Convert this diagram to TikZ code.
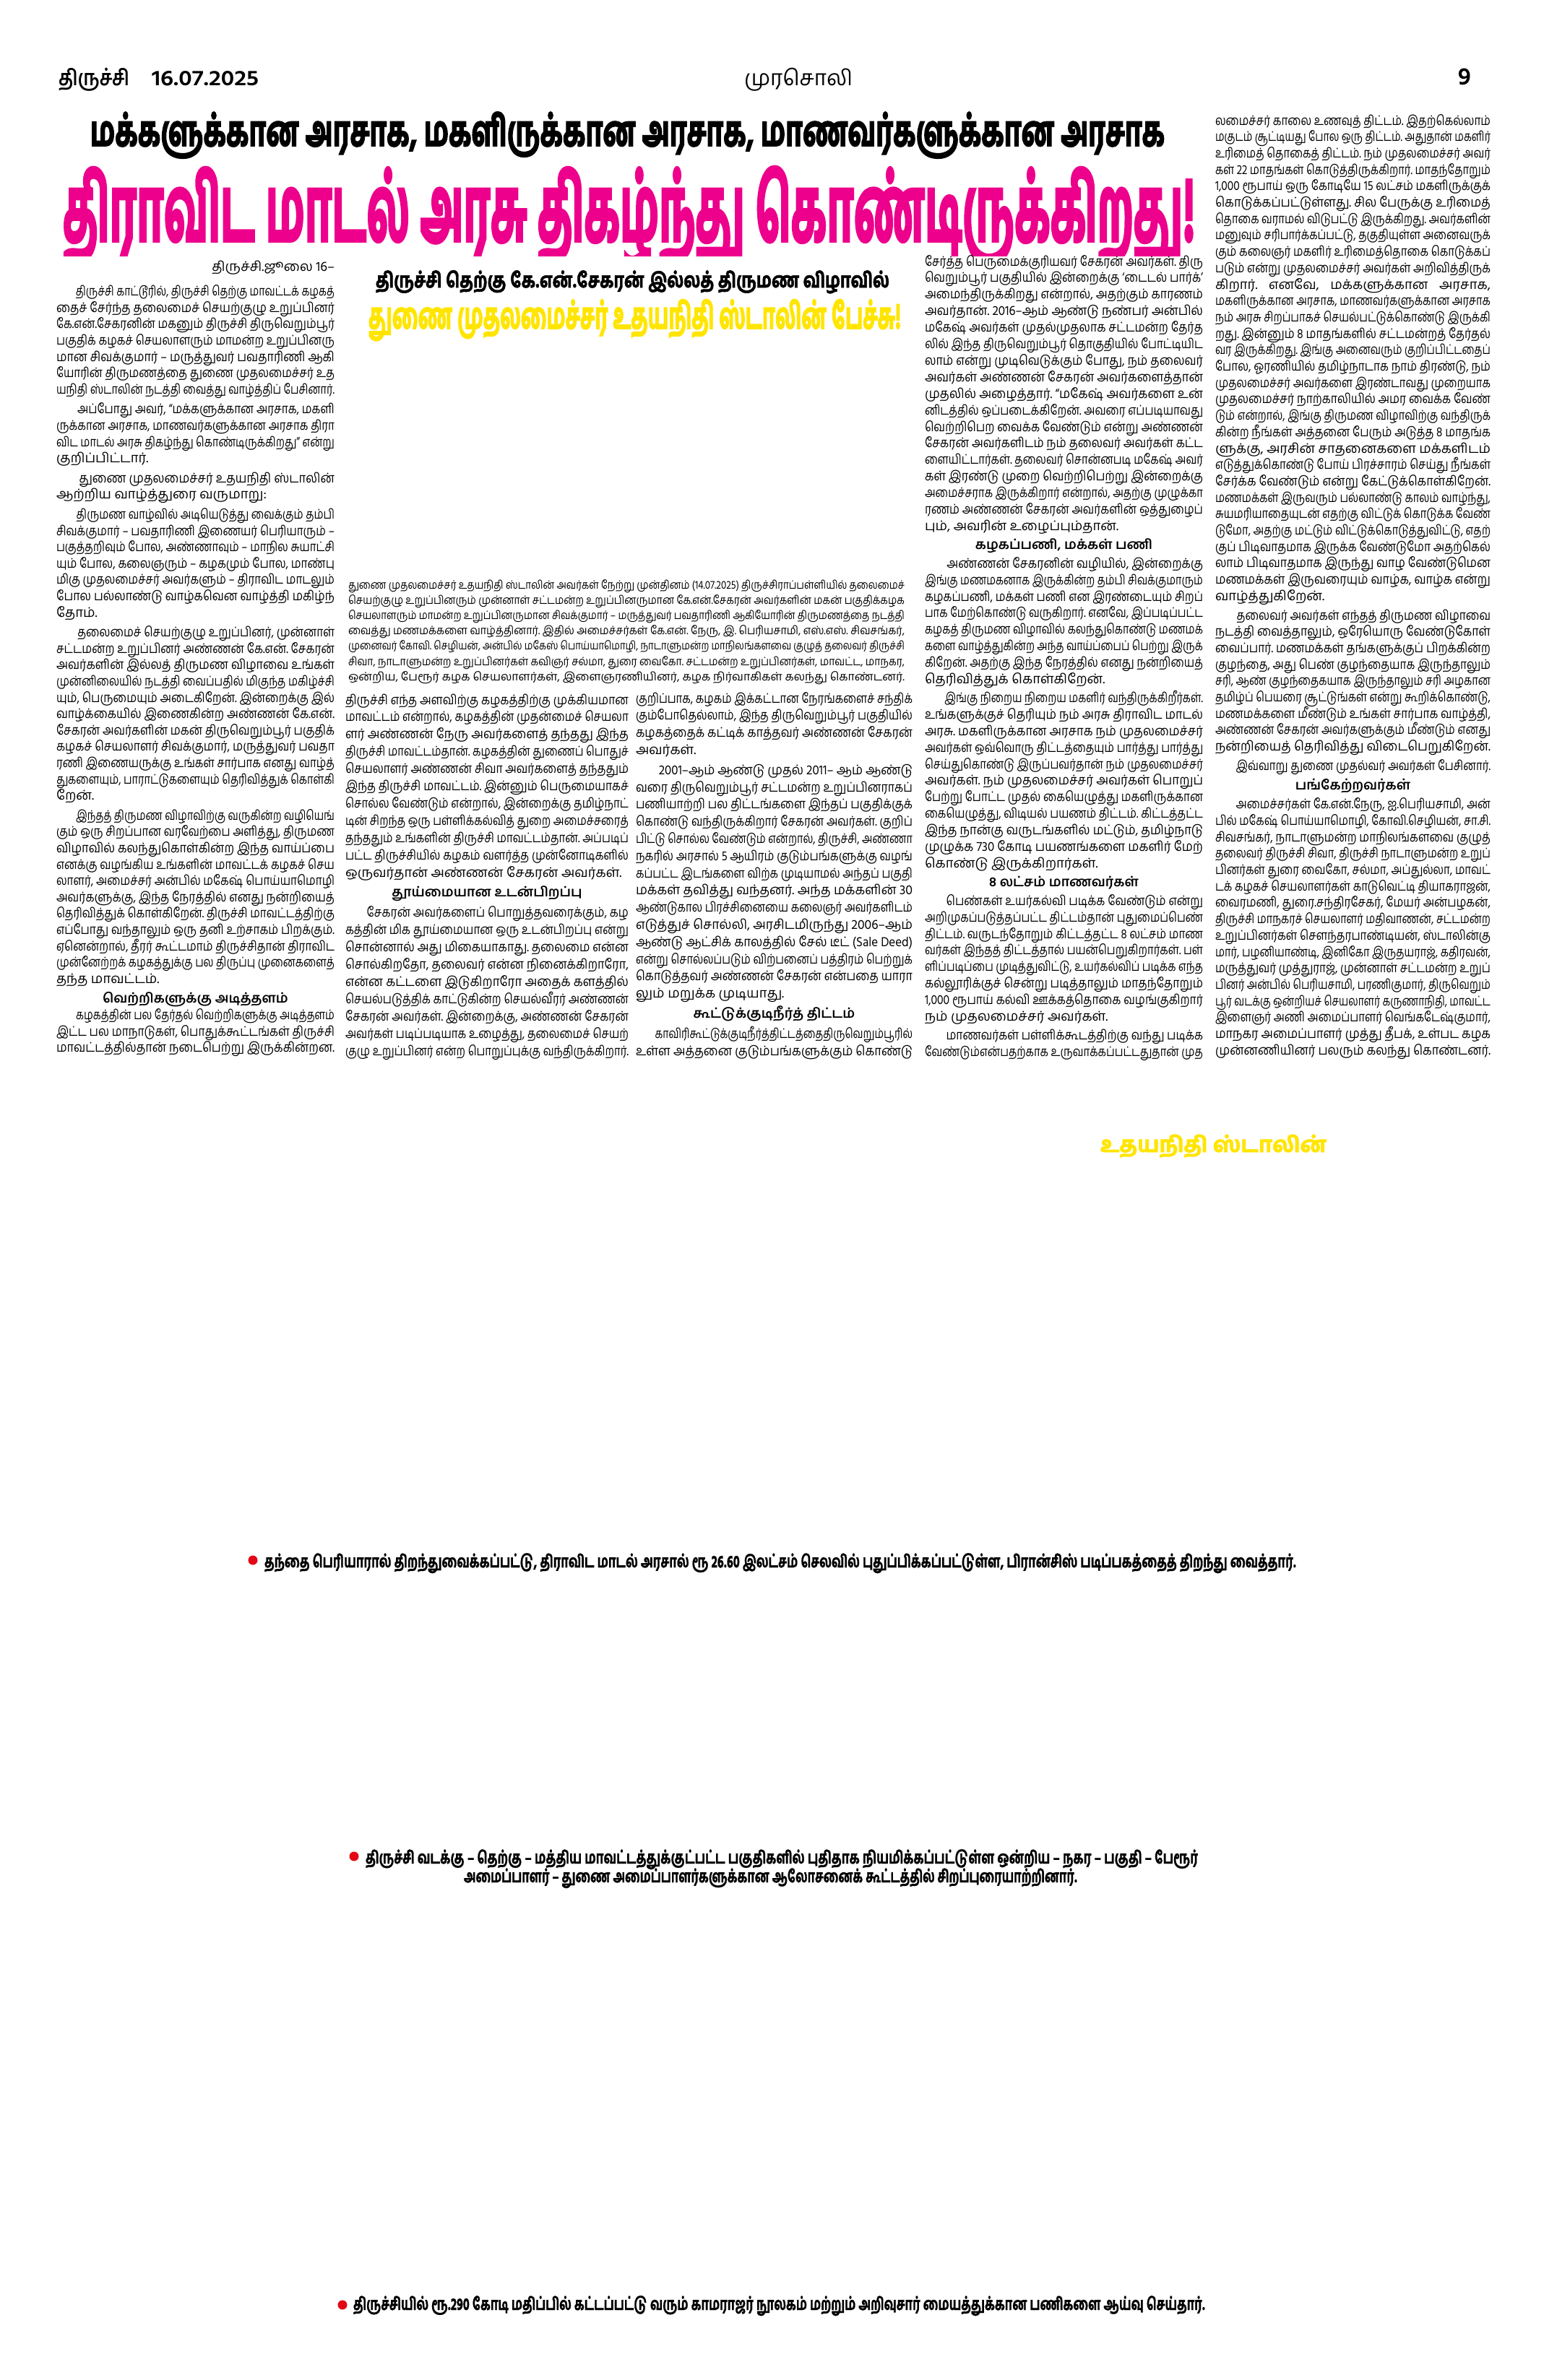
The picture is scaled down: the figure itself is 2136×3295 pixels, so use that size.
\documentclass[tikz,border=0pt]{standalone}
\usepackage{fontspec}
\usepackage{graphicx}
\setmainfont{Hind Madurai}[Script=Tamil]
\newfontfamily\hvy{Hind Madurai Bold}[Script=Tamil, FakeBold=3]
\newfontfamily\hvm{Hind Madurai Bold}[Script=Tamil, FakeBold=2]
\newfontfamily\hvs{Hind Madurai Bold}[Script=Tamil, FakeBold=1]
\definecolor{mag}{HTML}{EC008C}
\definecolor{yel}{HTML}{FFE500}
\definecolor{bul}{HTML}{E30613}
\newlength\colw
\newcommand\pjl[1]{\setbox0=\hbox{#1}\ifdim\wd0>\colw\hbox to\colw{\resizebox{\colw}{\height}{\copy0}}\else\hbox to\colw{#1}\fi}
\newcommand\pel[1]{\setbox0=\hbox{#1}\ifdim\wd0>\colw\hbox to\colw{\resizebox{\colw}{\height}{\copy0}}\else\hbox to\colw{#1\hfil}\fi}
\newcommand\pct[1]{\hbox to\colw{\hfil\bfseries #1\hfil}}
\newcommand\prt[1]{\hbox to\colw{\hfil #1}}
\newcommand\pin{\kern35pt}
\newcommand\pgp[1]{\vskip #1pt}
\newcommand\colsetup[2]{\setlength\colw{#1pt}\fontsize{18.5}{#2}\selectfont\frenchspacing\baselineskip=#2pt\lineskiplimit=-\maxdimen\lineskip=0pt\parskip=0pt}
\tikzset{txt/.style={inner sep=0pt, outer sep=0pt, anchor=base west},
  bulletdot/.style={fill=bul, draw=none}}
\begin{document}
\begin{tikzpicture}[x=1pt,y=-1pt]
\useasboundingbox[fill=white] (0,0) rectangle (2136,3295);
% header
\node[txt] (hcity) at (81,118) {\resizebox{98pt}{\height}{\fontsize{30}{30}\selectfont\bfseries திருச்சி}};
\node[txt] (hdate) at (210,118) {\resizebox{148pt}{\height}{\fontsize{30}{30}\selectfont\bfseries 16.07.2025}};
\node[txt] (hname) at (1030,118) {\resizebox{150pt}{\height}{\fontsize{30}{30}\selectfont முரசொலி}};
\node[txt] (hpage) at (2018,117) {\fontsize{34}{34}\selectfont\bfseries 9};
% headlines
\node[txt] (head1) at (125,202) {\resizebox{1487pt}{\height}{\fontsize{58}{58}\selectfont\hvy மக்களுக்கான அரசாக, மகளிருக்கான அரசாக, மாணவர்களுக்கான அரசாக}};
\begin{scope}
\clip (0,222) rectangle (2136,354);
\node[txt, text=mag] (head2) at (87,334) {\resizebox{1567pt}{\height}{\fontsize{126}{126}\selectfont\hvy திராவிட மாடல் அரசு திகழ்ந்து கொண்டிருக்கிறது!}};
\end{scope}
\node[txt] (sub1) at (520,398) {\resizebox{711pt}{\height}{\fontsize{29}{29}\selectfont\hvm திருச்சி தெற்கு கே.என்.சேகரன் இல்லத் திருமண விழாவில்}};
\node[txt, text=yel] (sub2) at (510,455) {\resizebox{737pt}{\height}{\fontsize{50}{50}\selectfont\hvy துணை முதலமைச்சர் உதயநிதி ஸ்டாலின் பேச்சு!}};
% column 1
\node[txt] (col1) at (78,375) {\vtop{\colsetup{385}{22.6}%
\prt{திருச்சி.ஜூலை 16–}\pgp{12}
\pjl{\pin திருச்சி காட்டூரில், திருச்சி தெற்கு மாவட்டக் கழகத்}
\pjl{தைச் சேர்ந்த தலைமைச் செயற்குழு உறுப்பினர்}
\pjl{கே.என்.சேகரனின் மகனும் திருச்சி திருவெறும்பூர்}
\pjl{பகுதிக் கழகச் செயலாளரும் மாமன்ற உறுப்பினரு}
\pjl{மான சிவக்குமார் – மருத்துவர் பவதாரிணி ஆகி}
\pjl{யோரின் திருமணத்தை துணை முதலமைச்சர் உத}
\pjl{யநிதி ஸ்டாலின் நடத்தி வைத்து வாழ்த்திப் பேசினார்.}\pgp{5}
\pjl{\pin அப்போது அவர், “மக்களுக்கான அரசாக, மகளி}
\pjl{ருக்கான அரசாக, மாணவர்களுக்கான அரசாக திரா}
\pjl{விட மாடல் அரசு திகழ்ந்து கொண்டிருக்கிறது” என்று}
\pel{குறிப்பிட்டார்.}\pgp{5}
\pjl{\pin துணை முதலமைச்சர் உதயநிதி ஸ்டாலின்}
\pel{ஆற்றிய வாழ்த்துரை வருமாறு:}\pgp{5}
\pjl{\pin திருமண வாழ்வில் அடியெடுத்து வைக்கும் தம்பி}
\pjl{சிவக்குமார் – பவதாரிணி இணையர் பெரியாரும் –}
\pjl{பகுத்தறிவும் போல, அண்ணாவும் – மாநில சுயாட்சி}
\pjl{யும் போல, கலைஞரும் – கழகமும் போல, மாண்பு}
\pjl{மிகு முதலமைச்சர் அவர்களும் – திராவிட மாடலும்}
\pjl{போல பல்லாண்டு வாழ்கவென வாழ்த்தி மகிழ்ந்}
\pel{தோம்.}\pgp{5}
\pjl{\pin தலைமைச் செயற்குழு உறுப்பினர், முன்னாள்}
\pjl{சட்டமன்ற உறுப்பினர் அண்ணன் கே.என். சேகரன்}
\pjl{அவர்களின் இல்லத் திருமண விழாவை உங்கள்}
\pjl{முன்னிலையில் நடத்தி வைப்பதில் மிகுந்த மகிழ்ச்சி}
\pjl{யும், பெருமையும் அடைகிறேன். இன்றைக்கு இல்}
\pjl{வாழ்க்கையில் இணைகின்ற அண்ணன் கே.என்.}
\pjl{சேகரன் அவர்களின் மகன் திருவெறும்பூர் பகுதிக்}
\pjl{கழகச் செயலாளர் சிவக்குமார், மருத்துவர் பவதா}
\pjl{ரணி இணையருக்கு உங்கள் சார்பாக எனது வாழ்த்}
\pjl{துகளையும், பாராட்டுகளையும் தெரிவித்துக் கொள்கி}
\pel{றேன்.}\pgp{5}
\pjl{\pin இந்தத் திருமண விழாவிற்கு வருகின்ற வழியெங்}
\pjl{கும் ஒரு சிறப்பான வரவேற்பை அளித்து, திருமண}
\pjl{விழாவில் கலந்துகொள்கின்ற இந்த வாய்ப்பை}
\pjl{எனக்கு வழங்கிய உங்களின் மாவட்டக் கழகச் செய}
\pjl{லாளர், அமைச்சர் அன்பில் மகேஷ் பொய்யாமொழி}
\pjl{அவர்களுக்கு, இந்த நேரத்தில் எனது நன்றியைத்}
\pjl{தெரிவித்துக் கொள்கிறேன். திருச்சி மாவட்டத்திற்கு}
\pjl{எப்போது வந்தாலும் ஒரு தனி உற்சாகம் பிறக்கும்.}
\pjl{ஏனென்றால், தீரர் கூட்டமாம் திருச்சிதான் திராவிட}
\pjl{முன்னேற்றக் கழகத்துக்கு பல திருப்பு முனைகளைத்}
\pel{தந்த மாவட்டம்.}\pgp{5}
\pct{வெற்றிகளுக்கு அடித்தளம்}
\pjl{\pin கழகத்தின் பல தேர்தல் வெற்றிகளுக்கு அடித்தளம்}
\pjl{இட்ட பல மாநாடுகள், பொதுக்கூட்டங்கள் திருச்சி}
\pjl{மாவட்டத்தில்தான் நடைபெற்று இருக்கின்றன.}
}};
% photo caption
\node[txt] (cap) at (482,815) {\vtop{\setlength\colw{770pt}\fontsize{16}{21.2}\selectfont\frenchspacing\baselineskip=21.2pt\lineskiplimit=-\maxdimen\lineskip=0pt%
\pjl{துணை முதலமைச்சர் உதயநிதி ஸ்டாலின் அவர்கள் நேற்று முன்தினம் (14.07.2025) திருச்சிராப்பள்ளியில் தலைமைச்}
\pjl{செயற்குழு உறுப்பினரும் முன்னாள் சட்டமன்ற உறுப்பினருமான கே.என்.சேகரன் அவர்களின் மகன் பகுதிக்கழக}
\pjl{செயலாளரும் மாமன்ற உறுப்பினருமான சிவக்குமார் – மருத்துவர் பவதாரிணி ஆகியோரின் திருமணத்தை நடத்தி}
\pjl{வைத்து மணமக்களை வாழ்த்தினார். இதில் அமைச்சர்கள் கே.என். நேரு, இ. பெரியசாமி, எஸ்.எஸ். சிவசங்கர்,}
\pjl{முனைவர் கோவி. செழியன், அன்பில் மகேஸ் பொய்யாமொழி, நாடாளுமன்ற மாநிலங்களவை குழுத் தலைவர் திருச்சி}
\pjl{சிவா, நாடாளுமன்ற உறுப்பினர்கள் கவிஞர் சல்மா, துரை வைகோ. சட்டமன்ற உறுப்பினர்கள், மாவட்ட, மாநகர,}
\pel{ஒன்றிய, பேரூர் கழக செயலாளர்கள், இளைஞரணியினர், கழக நிர்வாகிகள் கலந்து கொண்டனர்.}
}};
% column 2a
\node[txt] (col2a) at (478,975) {\vtop{\colsetup{392}{23.9}%
\pjl{திருச்சி எந்த அளவிற்கு கழகத்திற்கு முக்கியமான}
\pjl{மாவட்டம் என்றால், கழகத்தின் முதன்மைச் செயலா}
\pjl{ளர் அண்ணன் நேரு அவர்களைத் தந்தது இந்த}
\pjl{திருச்சி மாவட்டம்தான். கழகத்தின் துணைப் பொதுச்}
\pjl{செயலாளர் அண்ணன் சிவா அவர்களைத் தந்ததும்}
\pjl{இந்த திருச்சி மாவட்டம். இன்னும் பெருமையாகச்}
\pjl{சொல்ல வேண்டும் என்றால், இன்றைக்கு தமிழ்நாட்}
\pjl{டின் சிறந்த ஒரு பள்ளிக்கல்வித் துறை அமைச்சரைத்}
\pjl{தந்ததும் உங்களின் திருச்சி மாவட்டம்தான். அப்படிப்}
\pjl{பட்ட திருச்சியில் கழகம் வளர்த்த முன்னோடிகளில்}
\pel{ஒருவர்தான் அண்ணன் சேகரன் அவர்கள்.}\pgp{4}
\pct{தூய்மையான உடன்பிறப்பு}\pgp{4}
\pjl{\pin சேகரன் அவர்களைப் பொறுத்தவரைக்கும், கழ}
\pjl{கத்தின் மிக தூய்மையான ஒரு உடன்பிறப்பு என்று}
\pjl{சொன்னால் அது மிகையாகாது. தலைமை என்ன}
\pjl{சொல்கிறதோ, தலைவர் என்ன நினைக்கிறாரோ,}
\pjl{என்ன கட்டளை இடுகிறாரோ அதைக் களத்தில்}
\pjl{செயல்படுத்திக் காட்டுகின்ற செயல்வீரர் அண்ணன்}
\pjl{சேகரன் அவர்கள். இன்றைக்கு, அண்ணன் சேகரன்}
\pjl{அவர்கள் படிப்படியாக உழைத்து, தலைமைச் செயற்}
\pjl{குழு உறுப்பினர் என்ற பொறுப்புக்கு வந்திருக்கிறார்.}
}};
% column 2b
\node[txt] (col2b) at (880,973) {\vtop{\colsetup{383}{23.8}%
\pjl{குறிப்பாக, கழகம் இக்கட்டான நேரங்களைச் சந்திக்}
\pjl{கும்போதெல்லாம், இந்த திருவெறும்பூர் பகுதியில்}
\pjl{கழகத்தைக் கட்டிக் காத்தவர் அண்ணன் சேகரன்}
\pel{அவர்கள்.}\pgp{4}
\pjl{\pin 2001–ஆம் ஆண்டு முதல் 2011– ஆம் ஆண்டு}
\pjl{வரை திருவெறும்பூர் சட்டமன்ற உறுப்பினராகப்}
\pjl{பணியாற்றி பல திட்டங்களை இந்தப் பகுதிக்குக்}
\pjl{கொண்டு வந்திருக்கிறார் சேகரன் அவர்கள். குறிப்}
\pjl{பிட்டு சொல்ல வேண்டும் என்றால், திருச்சி, அண்ணா}
\pjl{நகரில் அரசால் 5 ஆயிரம் குடும்பங்களுக்கு வழங்}
\pjl{கப்பட்ட இடங்களை விற்க முடியாமல் அந்தப் பகுதி}
\pjl{மக்கள் தவித்து வந்தனர். அந்த மக்களின் 30}
\pjl{ஆண்டுகால பிரச்சினையை கலைஞர் அவர்களிடம்}
\pjl{எடுத்துச் சொல்லி, அரசிடமிருந்து 2006–ஆம்}
\pjl{ஆண்டு ஆட்சிக் காலத்தில் சேல் டீட் (Sale Deed)}
\pjl{என்று சொல்லப்படும் விற்பனைப் பத்திரம் பெற்றுக்}
\pjl{கொடுத்தவர் அண்ணன் சேகரன் என்பதை யாரா}
\pel{லும் மறுக்க முடியாது.}\pgp{4}
\pct{கூட்டுக்குடிநீர்த் திட்டம்}\pgp{4}
\pjl{\pin காவிரிகூட்டுக்குடிநீர்த்திட்டத்தைதிருவெறும்பூரில்}
\pjl{உள்ள அத்தனை குடும்பங்களுக்கும் கொண்டு}
}};
% column 3
\node[txt] (col3) at (1280,368) {\vtop{\colsetup{385}{22.9}%
\pjl{சேர்த்த பெருமைக்குரியவர் சேகரன் அவர்கள். திரு}
\pjl{வெறும்பூர் பகுதியில் இன்றைக்கு ‘டைடல் பார்க்’}
\pjl{அமைந்திருக்கிறது என்றால், அதற்கும் காரணம்}
\pjl{அவர்தான். 2016–ஆம் ஆண்டு நண்பர் அன்பில்}
\pjl{மகேஷ் அவர்கள் முதல்முதலாக சட்டமன்ற தேர்த}
\pjl{லில் இந்த திருவெறும்பூர் தொகுதியில் போட்டியிட}
\pjl{லாம் என்று முடிவெடுக்கும் போது, நம் தலைவர்}
\pjl{அவர்கள் அண்ணன் சேகரன் அவர்களைத்தான்}
\pjl{முதலில் அழைத்தார். “மகேஷ் அவர்களை உன்}
\pjl{னிடத்தில் ஒப்படைக்கிறேன். அவரை எப்படியாவது}
\pjl{வெற்றிபெற வைக்க வேண்டும் என்று அண்ணன்}
\pjl{சேகரன் அவர்களிடம் நம் தலைவர் அவர்கள் கட்ட}
\pjl{ளையிட்டார்கள். தலைவர் சொன்னபடி மகேஷ் அவர்}
\pjl{கள் இரண்டு முறை வெற்றிபெற்று இன்றைக்கு}
\pjl{அமைச்சராக இருக்கிறார் என்றால், அதற்கு முழுக்கா}
\pjl{ரணம் அண்ணன் சேகரன் அவர்களின் ஒத்துழைப்}
\pel{பும், அவரின் உழைப்பும்தான்.}\pgp{3}
\pct{கழகப்பணி, மக்கள் பணி}\pgp{3}
\pjl{\pin அண்ணன் சேகரனின் வழியில், இன்றைக்கு}
\pjl{இங்கு மணமகனாக இருக்கின்ற தம்பி சிவக்குமாரும்}
\pjl{கழகப்பணி, மக்கள் பணி என இரண்டையும் சிறப்}
\pjl{பாக மேற்கொண்டு வருகிறார். எனவே, இப்படிப்பட்ட}
\pjl{கழகத் திருமண விழாவில் கலந்துகொண்டு மணமக்}
\pjl{களை வாழ்த்துகின்ற அந்த வாய்ப்பைப் பெற்று இருக்}
\pjl{கிறேன். அதற்கு இந்த நேரத்தில் எனது நன்றியைத்}
\pel{தெரிவித்துக் கொள்கிறேன்.}\pgp{3}
\pjl{\pin இங்கு நிறைய நிறைய மகளிர் வந்திருக்கிறீர்கள்.}
\pjl{உங்களுக்குச் தெரியும் நம் அரசு திராவிட மாடல்}
\pjl{அரசு. மகளிருக்கான அரசாக நம் முதலமைச்சர்}
\pjl{அவர்கள் ஒவ்வொரு திட்டத்தையும் பார்த்து பார்த்து}
\pjl{செய்துகொண்டு இருப்பவர்தான் நம் முதலமைச்சர்}
\pjl{அவர்கள். நம் முதலமைச்சர் அவர்கள் பொறுப்}
\pjl{பேற்று போட்ட முதல் கையெழுத்து மகளிருக்கான}
\pjl{கையெழுத்து, விடியல் பயணம் திட்டம். கிட்டத்தட்ட}
\pjl{இந்த நான்கு வருடங்களில் மட்டும், தமிழ்நாடு}
\pjl{முழுக்க 730 கோடி பயணங்களை மகளிர் மேற்}
\pel{கொண்டு இருக்கிறார்கள்.}\pgp{3}
\pct{8 லட்சம் மாணவர்கள்}\pgp{3}
\pjl{\pin பெண்கள் உயர்கல்வி படிக்க வேண்டும் என்று}
\pjl{அறிமுகப்படுத்தப்பட்ட திட்டம்தான் புதுமைப்பெண்}
\pjl{திட்டம். வருடந்தோறும் கிட்டத்தட்ட 8 லட்சம் மாண}
\pjl{வர்கள் இந்தத் திட்டத்தால் பயன்பெறுகிறார்கள். பள்}
\pjl{ளிப்படிப்பை முடித்துவிட்டு, உயர்கல்விப் படிக்க எந்த}
\pjl{கல்லூரிக்குச் சென்று படித்தாலும் மாதந்தோறும்}
\pjl{1,000 ரூபாய் கல்வி ஊக்கத்தொகை வழங்குகிறார்}
\pel{நம் முதலமைச்சர் அவர்கள்.}\pgp{3}
\pjl{\pin மாணவர்கள் பள்ளிக்கூடத்திற்கு வந்து படிக்க}
\pjl{வேண்டும்என்பதற்காக உருவாக்கப்பட்டதுதான் முத}
}};
% column 4
\node[txt] (col4) at (1682,173) {\vtop{\colsetup{381}{22.7}%
\pjl{லமைச்சர் காலை உணவுத் திட்டம். இதற்கெல்லாம்}
\pjl{மகுடம் சூட்டியது போல ஒரு திட்டம். அதுதான் மகளிர்}
\pjl{உரிமைத் தொகைத் திட்டம். நம் முதலமைச்சர் அவர்}
\pjl{கள் 22 மாதங்கள் கொடுத்திருக்கிறார். மாதந்தோறும்}
\pjl{1,000 ரூபாய் ஒரு கோடியே 15 லட்சம் மகளிருக்குக்}
\pjl{கொடுக்கப்பட்டுள்ளது. சில பேருக்கு உரிமைத்}
\pjl{தொகை வராமல் விடுபட்டு இருக்கிறது. அவர்களின்}
\pjl{மனுவும் சரிபார்க்கப்பட்டு, தகுதியுள்ள அனைவருக்}
\pjl{கும் கலைஞர் மகளிர் உரிமைத்தொகை கொடுக்கப்}
\pjl{படும் என்று முதலமைச்சர் அவர்கள் அறிவித்திருக்}
\pjl{கிறார். எனவே, மக்களுக்கான அரசாக,}
\pjl{மகளிருக்கான அரசாக, மாணவர்களுக்கான அரசாக}
\pjl{நம் அரசு சிறப்பாகச் செயல்பட்டுக்கொண்டு இருக்கி}
\pjl{றது. இன்னும் 8 மாதங்களில் சட்டமன்றத் தேர்தல்}
\pjl{வர இருக்கிறது. இங்கு அனைவரும் குறிப்பிட்டதைப்}
\pjl{போல, ஓரணியில் தமிழ்நாடாக நாம் திரண்டு, நம்}
\pjl{முதலமைச்சர் அவர்களை இரண்டாவது முறையாக}
\pjl{முதலமைச்சர் நாற்காலியில் அமர வைக்க வேண்}
\pjl{டும் என்றால், இங்கு திருமண விழாவிற்கு வந்திருக்}
\pjl{கின்ற நீங்கள் அத்தனை பேரும் அடுத்த 8 மாதங்க}
\pjl{ளுக்கு, அரசின் சாதனைகளை மக்களிடம்}
\pjl{எடுத்துக்கொண்டு போய் பிரச்சாரம் செய்து நீங்கள்}
\pjl{சேர்க்க வேண்டும் என்று கேட்டுக்கொள்கிறேன்.}
\pjl{மணமக்கள் இருவரும் பல்லாண்டு காலம் வாழ்ந்து,}
\pjl{சுயமரியாதையுடன் எதற்கு விட்டுக் கொடுக்க வேண்}
\pjl{டுமோ, அதற்கு மட்டும் விட்டுக்கொடுத்துவிட்டு, எதற்}
\pjl{குப் பிடிவாதமாக இருக்க வேண்டுமோ அதற்கெல்}
\pjl{லாம் பிடிவாதமாக இருந்து வாழ வேண்டுமென}
\pjl{மணமக்கள் இருவரையும் வாழ்க, வாழ்க என்று}
\pel{வாழ்த்துகிறேன்.}\pgp{4}
\pjl{\pin தலைவர் அவர்கள் எந்தத் திருமண விழாவை}
\pjl{நடத்தி வைத்தாலும், ஒரேயொரு வேண்டுகோள்}
\pjl{வைப்பார். மணமக்கள் தங்களுக்குப் பிறக்கின்ற}
\pjl{குழந்தை, அது பெண் குழந்தையாக இருந்தாலும்}
\pjl{சரி, ஆண் குழந்தைகயாக இருந்தாலும் சரி அழகான}
\pjl{தமிழ்ப் பெயரை சூட்டுங்கள் என்று கூறிக்கொண்டு,}
\pjl{மணமக்களை மீண்டும் உங்கள் சார்பாக வாழ்த்தி,}
\pjl{அண்ணன் சேகரன் அவர்களுக்கும் மீண்டும் எனது}
\pel{நன்றியைத் தெரிவித்து விடைபெறுகிறேன்.}\pgp{4}
\pel{\pin இவ்வாறு துணை முதல்வர் அவர்கள் பேசினார்.}\pgp{4}
\pct{பங்கேற்றவர்கள்}\pgp{4}
\pjl{\pin அமைச்சர்கள் கே.என்.நேரு, ஐ.பெரியசாமி, அன்}
\pjl{பில் மகேஷ் பொய்யாமொழி, கோவி.செழியன், சா.சி.}
\pjl{சிவசங்கர், நாடாளுமன்ற மாநிலங்களவை குழுத்}
\pjl{தலைவர் திருச்சி சிவா, திருச்சி நாடாளுமன்ற உறுப்}
\pjl{பினர்கள் துரை வைகோ, சல்மா, அப்துல்லா, மாவட்}
\pjl{டக் கழகச் செயலாளர்கள் காடுவெட்டி தியாகராஜன்,}
\pjl{வைரமணி, துரை.சந்திரசேகர், மேயர் அன்பழகன்,}
\pjl{திருச்சி மாநகரச் செயலாளர் மதிவாணன், சட்டமன்ற}
\pjl{உறுப்பினர்கள் சௌந்தரபாண்டியன், ஸ்டாலின்கு}
\pjl{மார், பழனியாண்டி, இனிகோ இருதயராஜ், கதிரவன்,}
\pjl{மருத்துவர் முத்துராஜ், முன்னாள் சட்டமன்ற உறுப்}
\pjl{பினர் அன்பில் பெரியசாமி, பரணிகுமார், திருவெறும்}
\pjl{பூர் வடக்கு ஒன்றியச் செயலாளர் கருணாநிதி, மாவட்ட}
\pjl{இளைஞர் அணி அமைப்பாளர் வெங்கடேஷ்குமார்,}
\pjl{மாநகர அமைப்பாளர் முத்து தீபக், உள்பட கழக}
\pel{முன்னணியினர் பலரும் கலந்து கொண்டனர்.}
}};
% name label
\node[txt, text=yel] (namelbl) at (1523,1595) {\resizebox{313pt}{\height}{\fontsize{30}{30}\selectfont\hvm உதயநிதி ஸ்டாலின்}};
% bottom captions
\fill[bulletdot] (350,2160) circle (6.5);
\node[txt] (capa) at (366,2170) {\resizebox{1428pt}{\height}{\fontsize{24}{24}\selectfont\hvs தந்தை பெரியாரால் திறந்துவைக்கப்பட்டு, திராவிட மாடல் அரசால் ரூ 26.60 இலட்சம் செலவில் புதுப்பிக்கப்பட்டுள்ள, பிரான்சிஸ் படிப்பகத்தைத் திறந்து வைத்தார்.}};
\fill[bulletdot] (490,2570) circle (6.5);
\node[txt] (capb1) at (506,2580) {\resizebox{1152pt}{\height}{\fontsize{24}{24}\selectfont\hvs திருச்சி வடக்கு – தெற்கு – மத்திய மாவட்டத்துக்குட்பட்ட பகுதிகளில் புதிதாக நியமிக்கப்பட்டுள்ள ஒன்றிய – நகர – பகுதி – பேரூர்}};
\node[txt] (capb2) at (642,2606) {\resizebox{849pt}{\height}{\fontsize{24}{24}\selectfont\hvs அமைப்பாளர் – துணை அமைப்பாளர்களுக்கான ஆலோசனைக் கூட்டத்தில் சிறப்புரையாற்றினார்.}};
\fill[bulletdot] (474,3191) circle (6.5);
\node[txt] (capc) at (489,3198) {\resizebox{1179pt}{\height}{\fontsize{24}{24}\selectfont\hvs திருச்சியில் ரூ.290 கோடி மதிப்பில் கட்டப்பட்டு வரும் காமராஜர் நூலகம் மற்றும் அறிவுசார் மையத்துக்கான பணிகளை ஆய்வு செய்தார்.}};
\end{tikzpicture}
\end{document}
